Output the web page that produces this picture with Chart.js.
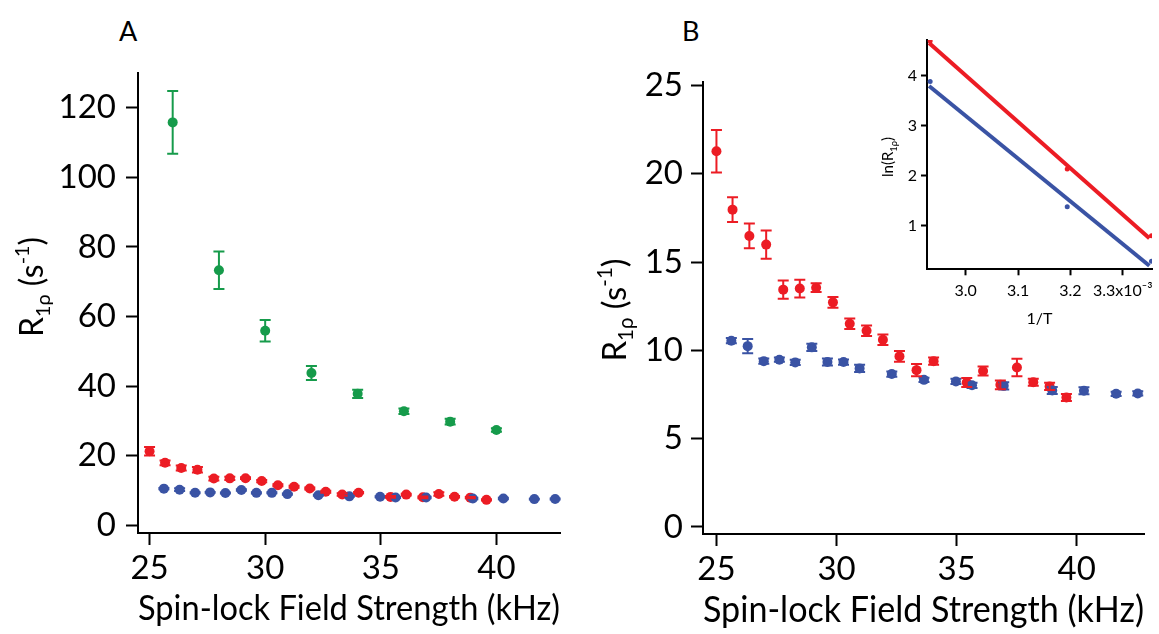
<!DOCTYPE html>
<html>
<head>
<meta charset="utf-8">
<script src="https://cdn.jsdelivr.net/npm/chart.js@4/dist/chart.umd.min.js"></script>
<style>
  body { margin: 0; background: #fff; width: 1159px; height: 634px; overflow: hidden; position: relative; }
  canvas { position: absolute; }
  .panel { position: absolute; font: 27px Lato; line-height: 27px; color: #000; }
</style>
</head>
<body>
<div class="panel" style="left:119px; top:17px;">A</div>
<div class="panel" style="left:682px; top:17px;">B</div>
<canvas id="chartA" width="580" height="634" style="left:0; top:0;"></canvas>
<canvas id="chartB" width="579" height="634" style="left:580px; top:0;"></canvas>
<canvas id="chartInset" width="319" height="320" style="left:840px; top:20px;"></canvas>
<script>
// spin-lock field strength (kHz) and R1rho (s^-1)
const fieldRed = [25.0, 25.67, 26.37, 27.07, 27.78, 28.47, 29.15, 29.85, 30.55, 31.25, 31.93, 32.62, 33.33, 34.04, 35.42, 36.1, 36.82, 37.51, 38.19, 38.87, 39.57];
const r1pRed = [21.28, 17.97, 16.48, 15.99, 13.44, 13.5, 13.55, 12.72, 11.51, 11.11, 10.6, 9.66, 8.88, 9.39, 8.18, 8.83, 8.05, 9.03, 8.2, 7.96, 7.33];
const errRed = [1.2, 0.7, 0.7, 0.8, 0.52, 0.5, 0.25, 0.3, 0.3, 0.3, 0.3, 0.3, 0.35, 0.2, 0.25, 0.25, 0.25, 0.5, 0.2, 0.2, 0.2];

const fieldBlue = [25.62, 26.3, 26.97, 27.62, 28.28, 28.97, 29.62, 30.29, 30.96, 32.3, 33.64, 34.97, 35.64, 36.96, 38.98, 40.3, 41.64, 42.54];
const r1pBlue = [10.55, 10.24, 9.39, 9.47, 9.32, 10.17, 9.34, 9.34, 8.98, 8.66, 8.33, 8.24, 8.02, 7.99, 7.73, 7.71, 7.54, 7.56];
const errBlue = [0.15, 0.4, 0.15, 0.12, 0.15, 0.2, 0.2, 0.15, 0.2, 0.15, 0.12, 0.15, 0.15, 0.2, 0.2, 0.2, 0.12, 0.12];

const fieldGreen = [26, 28, 30, 32, 34, 36, 38, 40];
const r1pGreen = [115.8, 73.3, 55.9, 43.8, 37.8, 32.8, 29.8, 27.4];
const errGreen = [9, 5.4, 3.1, 2.0, 1.2, 0.8, 0.8, 0.5];

// inset: ln(R1rho) vs 1/T (x10^-3)
const invT = [2.932, 3.194, 3.355];
const lnRed = [4.69, 2.13, 0.8];
const lnBlue = [3.88, 1.38, 0.29];
const fitInvT = [2.93, 3.351];
const fitRed = [4.65, 0.75];
const fitBlue = [3.79, 0.2];

const xTicks = [25, 30, 35, 40];
const yTicksA = [0, 20, 40, 60, 80, 100, 120];
const yTicksB = [0, 5, 10, 15, 20, 25];
const xTicksInset = [3.0, 3.1, 3.2, 3.3];
const yTicksInset = [1, 2, 3, 4];

const RED = '#ec1c24', BLUE = '#3a53a4', GREEN = '#169b4b';
const FONT = 'Lato';

const pts = (xs, ys) => xs.map((x, i) => ({ x: x, y: ys[i] }));

const errorBars = {
    id: 'errorBars',
    afterDatasetsDraw(chart) {
        const ctx = chart.ctx;
        const ys = chart.scales.y;
        chart.data.datasets.forEach((ds, i) => {
            if (!ds.errors) return;
            const meta = chart.getDatasetMeta(i);
            ctx.save();
            ctx.strokeStyle = ds.borderColor;
            ctx.lineWidth = 2;
            meta.data.forEach((pt, j) => {
                const v = ds.data[j].y, e = ds.errors[j];
                const top = ys.getPixelForValue(v + e), bot = ys.getPixelForValue(v - e);
                ctx.beginPath();
                ctx.moveTo(pt.x, top); ctx.lineTo(pt.x, bot);
                ctx.moveTo(pt.x - 5.5, top); ctx.lineTo(pt.x + 5.5, top);
                ctx.moveTo(pt.x - 5.5, bot); ctx.lineTo(pt.x + 5.5, bot);
                ctx.stroke();
            });
            ctx.restore();
        });
    }
};

// rotated y title with sub/superscripts
const yTitle = {
    id: 'yTitle',
    afterDraw(chart, args, opts) {
        if (!opts.parts) return;
        const ctx = chart.ctx;
        const size = opts.size;
        ctx.save();
        ctx.translate(opts.x, opts.y);
        ctx.rotate(-Math.PI / 2);
        ctx.fillStyle = '#000';
        ctx.textBaseline = 'alphabetic';
        let w = 0;
        opts.parts.forEach(p => {
            ctx.font = (size * (p.s || 1)) + 'px ' + FONT;
            w += ctx.measureText(p.t).width;
        });
        let x = -w / 2;
        opts.parts.forEach(p => {
            ctx.font = (size * (p.s || 1)) + 'px ' + FONT;
            ctx.fillText(p.t, x, size * 0.36 + size * (p.dy || 0));
            x += ctx.measureText(p.t).width;
        });
        ctx.restore();
    }
};

const r1pParts = [
    { t: 'R' }, { t: '1\u03C1', s: 0.62, dy: 0.22 }, { t: ' (s' }, { t: '-1', s: 0.62, dy: -0.42 }, { t: ')' }
];

function scales(o) {
    return {
        x: {
            type: 'linear', min: o.xmin, max: o.xmax,
            afterFit: s => { s.height = o.bottomH; },
            afterBuildTicks: s => { s.ticks = o.xticks.map(v => ({ value: v })); },
            border: { display: true, color: '#000', width: o.lw },
            grid: { display: true, drawOnChartArea: false, drawTicks: true, tickLength: o.tick, tickWidth: o.lw, color: '#000', tickColor: '#000' },
            ticks: { color: '#000', font: { family: FONT, size: o.tickSize }, padding: o.xpad, maxRotation: 0, autoSkip: false, callback: o.xfmt || (v => v) },
            title: o.xtitle ? { display: true, text: o.xtitle, color: '#000', font: { family: FONT, size: o.titleSize }, padding: { top: 0, bottom: o.titlePad } } : { display: false }
        },
        y: {
            type: 'linear', min: o.ymin, max: o.ymax,
            afterFit: s => { s.width = o.leftW; },
            afterBuildTicks: s => { s.ticks = o.yticks.map(v => ({ value: v })); },
            border: { display: true, color: '#000', width: o.lw },
            grid: { display: true, drawOnChartArea: false, drawTicks: true, tickLength: o.tick, tickWidth: o.lw, color: '#000', tickColor: '#000' },
            ticks: { color: '#000', font: { family: FONT, size: o.tickSize }, padding: o.ypad, autoSkip: false }
        }
    };
}

function scatter(label, xs, ys, errs, color, r) {
    return {
        label: label, data: pts(xs, ys), errors: errs,
        borderColor: color, backgroundColor: color,
        pointRadius: r, pointBorderWidth: 0, showLine: false
    };
}

new Chart(document.getElementById('chartA'), {
    type: 'scatter',
    data: {
        datasets: [
            scatter('Blue', fieldBlue, r1pBlue, errBlue, BLUE, 5),
            scatter('Red', fieldRed, r1pRed, errRed, RED, 5),
            scatter('Green', fieldGreen, r1pGreen, errGreen, GREEN, 5)
        ]
    },
    options: {
        responsive: false, animation: false,
        layout: { padding: { left: 0, top: 73, right: 20, bottom: 0 } },
        plugins: {
            legend: { display: false }, tooltip: { enabled: false },
            yTitle: { x: 31, y: 287, size: 32, parts: r1pParts }
        },
        scales: scales({
            xmin: 24.5, xmax: 42.75, ymin: -2.2, ymax: 130,
            xticks: xTicks, yticks: yTicksA, leftW: 138, bottomH: 101,
            lw: 2, tick: 12, tickSize: 33, xpad: 4, ypad: 10,
            xtitle: 'Spin-lock Field Strength (kHz)', titleSize: 35, titlePad: 4
        })
    },
    plugins: [errorBars, yTitle]
});

new Chart(document.getElementById('chartB'), {
    type: 'scatter',
    data: {
        datasets: [
            scatter('Blue', fieldBlue, r1pBlue, errBlue, BLUE, 5),
            scatter('Red', fieldRed, r1pRed, errRed, RED, 5)
        ]
    },
    options: {
        responsive: false, animation: false,
        layout: { padding: { left: 0, top: 82, right: 15, bottom: 0 } },
        plugins: {
            legend: { display: false }, tooltip: { enabled: false },
            yTitle: { x: 34, y: 310, size: 33, parts: r1pParts }
        },
        scales: scales({
            xmin: 24.44, xmax: 42.8, ymin: -0.4, ymax: 25.2,
            xticks: xTicks, yticks: yTicksB, leftW: 123, bottomH: 100,
            lw: 2, tick: 12, tickSize: 33, xpad: 4, ypad: 8,
            xtitle: 'Spin-lock Field Strength (kHz)', titleSize: 36, titlePad: 2
        })
    },
    plugins: [errorBars, yTitle]
});

new Chart(document.getElementById('chartInset'), {
    type: 'scatter',
    data: {
        datasets: [
            { label: 'Red fit', data: pts(fitInvT, fitRed), showLine: true, borderColor: RED, borderWidth: 4, pointRadius: 0 },
            { label: 'Blue fit', data: pts(fitInvT, fitBlue), showLine: true, borderColor: BLUE, borderWidth: 4, pointRadius: 0 },
            { label: 'Red', data: pts(invT, lnRed), backgroundColor: RED, borderColor: RED, pointRadius: 2.5, pointBorderWidth: 0 },
            { label: 'Blue', data: pts(invT, lnBlue), backgroundColor: BLUE, borderColor: BLUE, pointRadius: 2.5, pointBorderWidth: 0 }
        ]
    },
    options: {
        responsive: false, animation: false,
        layout: { padding: { left: 0, top: 20, right: 3, bottom: 0 } },
        plugins: {
            legend: { display: false }, tooltip: { enabled: false },
            yTitle: { x: 48, y: 137, size: 15, parts: [{ t: 'ln(R' }, { t: '1\u03C1', s: 0.62, dy: 0.22 }, { t: ')' }] }
        },
        scales: scales({
            xmin: 2.926, xmax: 3.356, ymin: 0.128, ymax: 4.71,
            xticks: xTicksInset, yticks: yTicksInset, leftW: 87, bottomH: 70.7,
            lw: 2, tick: 6, tickSize: 16, xpad: 6, ypad: 4,
            xfmt: v => v === 3.3 ? '3.3x10\u207B\u00B3' : v.toFixed(1),
            xtitle: '1/T', titleSize: 16, titlePad: 12
        })
    },
    plugins: [yTitle]
});
</script>
</body>
</html>
